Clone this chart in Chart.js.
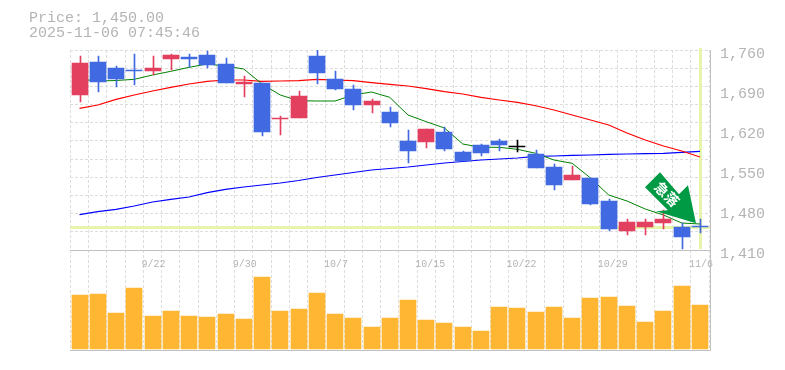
<!DOCTYPE html>
<html>
<head>
<meta charset="utf-8">
<script src="https://cdn.jsdelivr.net/npm/chart.js@4"></script>
<style>
  html, body { margin: 0; padding: 0; background: #fff; }
  #box { width: 785px; height: 370px; }
</style>
</head>
<body>
<div id="box"><canvas id="graph" width="785" height="370"></canvas></div>
<script>
var dates = ["9/16","9/17","9/18","9/19","9/22","9/24","9/25","9/26","9/29","9/30","10/1","10/2","10/3","10/6","10/7","10/8","10/9","10/10","10/14","10/15","10/16","10/17","10/20","10/21","10/22","10/23","10/24","10/27","10/28","10/29","10/30","10/31","11/4","11/5","11/6"];
var dateLabels = ["9/22","9/30","10/7","10/15","10/22","10/29","11/6"];

var opens = [1681.25,1739,1728.5,1725,1723.25,1744.25,1747.75,1751.25,1735.5,1700.5,1702.25,1639.25,1641,1749.5,1709.25,1691.75,1663.75,1651.5,1600.75,1599,1616.5,1581.5,1593.75,1600.75,1592,1578,1555.25,1532.5,1536,1495.75,1443.25,1450.25,1457.25,1450.25,1452];
var closes = [1737.25,1704,1709.25,1723.25,1728.5,1751.25,1744.25,1733.75,1702.25,1704,1616.5,1641,1679.5,1719.75,1691.75,1663.75,1670.75,1632.25,1583.25,1621.75,1586.75,1565.75,1579.75,1593.75,1592,1553.5,1523.75,1541.25,1490.5,1446.75,1459,1459,1464.25,1433,1450];
var highs = [1749.5,1749.5,1732,1753,1749.5,1753,1753,1758.25,1746,1714.5,1702.25,1644.5,1688.25,1760,1723.25,1698.75,1674.25,1660.25,1620,1621.75,1625.25,1583.25,1595.5,1604.25,1602.5,1585,1560.5,1557,1536,1499.25,1464.25,1464.25,1480,1457.25,1464.25];
var lows = [1669,1686.5,1695.25,1698.75,1716.25,1725,1730.25,1728.5,1702.25,1677.75,1609.5,1611.25,1641,1700.5,1690,1655,1649.75,1625.25,1562.25,1588.5,1583.25,1565.75,1574.5,1583.25,1581.5,1553.5,1515,1532.5,1488.75,1443.25,1436.25,1436.25,1446.75,1411.75,1440.25];

var maShort = [1709.25,1705.75,1706.6,1708.7,1716.25,1722.7,1729.7,1735.5,1732,1726.75,1700.5,1681.25,1671.3,1670.75,1670.75,1681.25,1686.5,1677.2,1646.25,1634.5,1623.5,1595.5,1589.7,1589.7,1586.2,1579.2,1567.5,1561.7,1536,1506.25,1495.75,1481.75,1471.25,1457.25,1455.5];
var maMiddle = [1658,1663.75,1673.7,1681.25,1688.25,1694.7,1700.5,1705.2,1707.5,1707.5,1705.2,1705.75,1706.3,1708.7,1707.5,1706.3,1702.8,1700,1697,1692.3,1687,1683,1677.2,1672.5,1668.5,1662.5,1655,1646.25,1637.5,1628.75,1614.75,1602.5,1592,1583.25,1572.75];
var maLong = [1471.8,1477,1481.2,1487,1494,1498.7,1502.75,1510.3,1516.2,1520.25,1523.75,1527.25,1531.6,1536.9,1541.25,1545.6,1550,1552.6,1555.25,1558.75,1562.25,1564.9,1567.5,1569.25,1571,1574,1574.5,1575.7,1576.25,1577.5,1578,1578.5,1579.2,1581,1582.75];

var volumes = [54000,55000,36000,61000,33000,38000,33000,32000,35000,30000,72000,38000,40000,56000,35000,31000,22000,31000,49000,29000,26000,22000,18000,42000,41000,37000,42000,31000,51000,52000,43000,27000,38000,63000,44000];

var priceTicks = [1760,1690,1620,1550,1480,1410];
var gridPrices = [1760,1728.2,1696.4,1664.5,1632.7,1600.9,1569.1,1537.3,1505.5,1473.6,1441.8,1410];
var lastPrice = 1450;
var titleLines = ["Price: 1,450.00","2025-11-06 07:45:46"];
var signalText = "\u6025\u843d";

var UP = "#e34060";
var DOWN = "#4169e1";
var FLAT = "#000000";
var MARK = "#e6f5a9";
var GREY = "#c0c0c0";
var TEXT = "#b4b4b4";
var MONO = "'Liberation Mono', monospace";

function candleColor(i) {
  if (closes[i] > opens[i]) return UP;
  if (closes[i] < opens[i]) return DOWN;
  return FLAT;
}

var colors = dates.map(function(d, i) { return candleColor(i); });
var bodies = dates.map(function(d, i) { return [opens[i], closes[i]]; });
var wicks = dates.map(function(d, i) { return [lows[i], highs[i]]; });

// keeps the bars on whole pixels, the reference has no soft edges
var snapBars = {
  id: "snapBars",
  afterDatasetsUpdate: function(chart) {
    chart.data.datasets.forEach(function(ds, n) {
      if (ds.type !== "bar") return;
      chart.getDatasetMeta(n).data.forEach(function(bar) {
        bar.x = Math.round(bar.x) + (ds.label === "wick" ? 0.5 : 0);
        var top = Math.round(bar.y);
        var bottom = Math.round(bar.base);
        if (top === bottom) bottom = top + 1;
        bar.y = top;
        bar.base = bottom;
      });
    });
  }
};

// price marker lines behind the candles, and the right edge of the frame
var priceMarks = {
  id: "priceMarks",
  beforeDatasetsDraw: function(chart) {
    var ctx = chart.ctx;
    var area = chart.chartArea;
    var y = chart.scales.y;
    var px = Math.round(chart.scales.x.getPixelForValue(dates.length - 1));
    var py = Math.round(y.getPixelForValue(lastPrice));
    ctx.save();
    ctx.fillStyle = MARK;
    ctx.fillRect(area.left, py - 1, area.right - area.left, 3);
    ctx.fillRect(px - 1, area.top - 2, 3, y.getPixelForValue(1410) - area.top + 1);
    ctx.fillStyle = GREY;
    ctx.fillRect(710, area.top, 1, area.bottom - area.top + 1);
    ctx.restore();
  }
};

// title text and the signal arrow on top of everything
var overlay = {
  id: "overlay",
  afterDraw: function(chart) {
    var ctx = chart.ctx;
    ctx.save();
    ctx.fillStyle = TEXT;
    ctx.font = "15px " + MONO;
    ctx.textBaseline = "middle";
    ctx.fillText(titleLines[0], 29, 18);
    ctx.fillText(titleLines[1], 29, 33);

    var x = chart.scales.x.getPixelForValue(dates.length - 1);
    var y = chart.scales.y.getPixelForValue(lastPrice);
    var shape = [[-40,-55],[-55,-40],[-32,-17],[-44,-16],[-4,-4],[-12,-42],[-21,-33]];
    ctx.fillStyle = "#009944";
    ctx.beginPath();
    shape.forEach(function(p, i) {
      if (i === 0) ctx.moveTo(x + p[0], y + p[1]);
      else ctx.lineTo(x + p[0], y + p[1]);
    });
    ctx.closePath();
    ctx.fill();

    ctx.translate(x - 33, y - 33);
    ctx.rotate(Math.PI / 4);
    ctx.fillStyle = "#ffffff";
    ctx.font = "bold 14px 'Noto Sans CJK JP'";
    ctx.textAlign = "center";
    ctx.textBaseline = "middle";
    ctx.fillText(signalText, 0, 0);
    ctx.restore();
  }
};

var chart = new Chart(document.getElementById("graph").getContext("2d"), {
  data: {
    labels: dates,
    datasets: [
      { type: "bar", label: "body", data: bodies, backgroundColor: colors, barThickness: 16, grouped: false, order: 1 },
      { type: "bar", label: "wick", data: wicks, backgroundColor: colors, barThickness: 1, grouped: false, order: 2 },
      { type: "line", label: "short", data: maShort, borderColor: "#008000", borderWidth: 1, pointRadius: 0, tension: 0, order: 3 },
      { type: "line", label: "middle", data: maMiddle, borderColor: "#ff0000", borderWidth: 1.2, pointRadius: 0, tension: 0, order: 3 },
      { type: "line", label: "long", data: maLong, borderColor: "#0000ff", borderWidth: 1.2, pointRadius: 0, tension: 0, order: 3 },
      { type: "bar", label: "volume", data: volumes, yAxisID: "vol", backgroundColor: "#ffb733", barThickness: 16, grouped: false, order: 4 }
    ]
  },
  options: {
    responsive: false,
    animation: false,
    layout: { padding: { left: 70.4, top: 50, right: 0, bottom: 20 } },
    plugins: {
      legend: { display: false },
      tooltip: { enabled: false }
    },
    scales: {
      x: {
        type: "category",
        position: { y: 1410 },
        offset: true,
        grid: { display: true, offset: true, color: "#dddddd", drawTicks: false },
        border: { display: true, color: GREY, dash: [3, 2] },
        ticks: {
          autoSkip: false,
          maxRotation: 0,
          minRotation: 0,
          align: "start",
          labelOffset: -11,
          padding: 8,
          color: TEXT,
          font: { family: MONO, size: 10 },
          callback: function(v) {
            var d = dates[v];
            return dateLabels.indexOf(d) >= 0 ? d : "";
          }
        }
      },
      xBase: {
        type: "category",
        position: "bottom",
        labels: dates,
        grid: { display: false, drawTicks: false },
        border: { display: true, color: GREY },
        ticks: { display: false, padding: 0 }
      },
      y: {
        position: "right",
        min: 1235,
        max: 1760,
        afterBuildTicks: function(axis) {
          axis.ticks = priceTicks.map(function(v) { return { value: v }; });
        },
        afterFit: function(axis) { axis.width = 75.9; },
        grid: { display: false, drawTicks: false },
        border: { display: false },
        ticks: {
          padding: 10.9,
          labelOffset: 4,
          color: TEXT,
          font: { family: MONO, size: 15 },
          callback: function(v) { return v.toLocaleString("en-US"); }
        }
      },
      yGrid: {
        position: "left",
        min: 1235,
        max: 1760,
        afterBuildTicks: function(axis) {
          axis.ticks = gridPrices.map(function(v) { return { value: v }; });
        },
        afterFit: function(axis) { axis.width = 0; },
        grid: { display: true, color: "#dddddd", drawTicks: false },
        border: { display: false, dash: [3, 2] },
        ticks: { display: false, padding: 0 }
      },
      vol: {
        display: false,
        position: "left",
        min: -1000,
        max: 299000
      }
    }
  },
  plugins: [snapBars, priceMarks, overlay]
});
</script>
</body>
</html>
